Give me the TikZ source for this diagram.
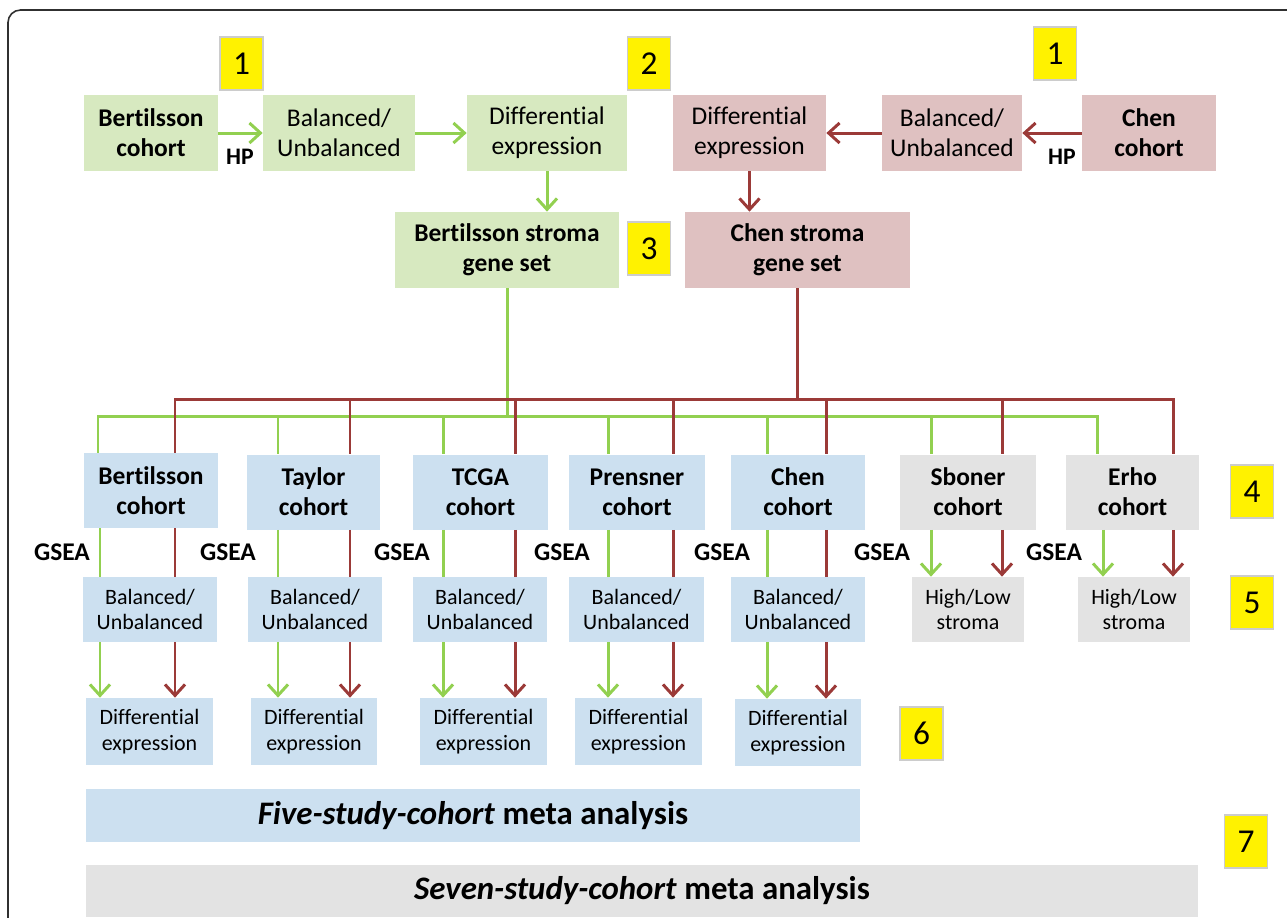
\documentclass[tikz,border=0pt]{standalone}
\usepackage{fontspec}
\setmainfont{Carlito}[RawFeature={-liga}]
\usepackage{tikz}
\usetikzlibrary{arrows.meta, positioning, calc}

\definecolor{gfill}{HTML}{D7E9C0}
\definecolor{rfill}{HTML}{DFC1C1}
\definecolor{bfill}{HTML}{CCE0F0}
\definecolor{kfill}{HTML}{E3E3E3}
\definecolor{gedge}{HTML}{92D050}
\definecolor{redge}{HTML}{9B3A38}
\definecolor{frame}{HTML}{303030}

\tikzset{
  box/.style={inner sep=1pt, align=center, font=\fontsize{14.5}{17}\selectfont},
  gbox/.style={box, fill=gfill},
  rbox/.style={box, fill=rfill},
  bbox/.style={box, fill=bfill},
  kbox/.style={box, fill=kfill},
  small/.style={font=\fontsize{12.5}{14.7}\selectfont},
  bold/.style={font=\fontsize{14.5}{17}\selectfont\bfseries},
  numbox/.style={draw=black!20, line width=0.8pt, fill=yellow, minimum width=0.86cm, minimum height=1.06cm, font=\fontsize{19}{22}\selectfont},
  tag/.style={font=\fontsize{13.5}{16}\selectfont\bfseries},
  gline/.style={draw=gedge, line width=1.7pt},
  rline/.style={draw=redge, line width=1.7pt},
  tip/.style={-{Straight Barb[length=2.2mm, width=4mm, line width=1.7pt]}},
}

\begin{document}
\begin{tikzpicture}[x=0.02cm, y=-0.02cm]
    \useasboundingbox (0,0) rectangle (1287,917);
    \draw[frame, line width=0.9pt, rounded corners=0.25cm] (8,940) |- (1300,10);

    % Nodes: top row
    \node (bcoh) at (151,133) [gbox, bold, minimum width=2.68cm, minimum height=1.52cm] {Bertilsson\\cohort};
    \node (bbal) at (339,133) [gbox, minimum width=3.04cm, minimum height=1.52cm] {Balanced/\\Unbalanced};
    \node (bdiff) at (547,133) [gbox, minimum width=3.2cm, minimum height=1.52cm] {Differential\\expression};
    \node (cdiff) at (749.5,133) [rbox, minimum width=3.06cm, minimum height=1.52cm] {Differential\\expression};
    \node (cbal) at (952,133) [rbox, minimum width=2.8cm, minimum height=1.52cm] {Balanced/\\Unbalanced};
    \node (ccoh) at (1149,133) [rbox, bold, minimum width=2.68cm, minimum height=1.52cm] {Chen\\cohort};

    \node (bset) at (507,250) [gbox, bold, minimum width=4.48cm, minimum height=1.52cm] {Bertilsson stroma\\gene set};
    \node (cset) at (797.5,250) [rbox, bold, minimum width=4.5cm, minimum height=1.52cm] {Chen stroma\\gene set};

    \node (hpb) at (240,157) [tag] {HP};
    \node (hpc) at (1062,157) [tag] {HP};

    % step numbers
    \node (n1a) at (241.5,63.5) [numbox] {1};
    \node (n2) at (649,63.5) [numbox] {2};
    \node (n1b) at (1055,53.5) [numbox] {1};
    \node (n3) at (649,248.5) [numbox] {3};
    \node (n4) at (1252,491.5) [numbox] {4};
    \node (n5) at (1252,602.5) [numbox] {5};
    \node (n6) at (921.5,733.5) [numbox] {6};
    \node (n7) at (1246,841.5) [numbox] {7};

    % Nodes: cohorts
    \node (coh1) at (151,490.5) [bbox, bold, minimum width=2.68cm, minimum height=1.5cm] {Bertilsson\\cohort};
    \node (coh2) at (313.5,492) [bbox, bold, minimum width=2.66cm, minimum height=1.5cm] {Taylor\\cohort};
    \node (coh3) at (480.5,492) [bbox, bold, minimum width=2.7cm, minimum height=1.5cm] {TCGA\\cohort};
    \node (coh4) at (637,492) [bbox, bold, minimum width=2.72cm, minimum height=1.5cm] {Prensner\\cohort};
    \node (coh5) at (798,492) [bbox, bold, minimum width=2.68cm, minimum height=1.5cm] {Chen\\cohort};
    \node (coh6) at (968,492) [kbox, bold, minimum width=2.72cm, minimum height=1.5cm] {Sboner\\cohort};
    \node (coh7) at (1132.5,492) [kbox, bold, minimum width=2.66cm, minimum height=1.5cm] {Erho\\cohort};

    \node (bal1) at (150,609.5) [bbox, small, minimum width=2.68cm, minimum height=1.3cm] {Balanced/\\Unbalanced};
    \node (bal2) at (315,609.5) [bbox, small, minimum width=2.68cm, minimum height=1.3cm] {Balanced/\\Unbalanced};
    \node (bal3) at (480,609.5) [bbox, small, minimum width=2.68cm, minimum height=1.3cm] {Balanced/\\Unbalanced};
    \node (bal4) at (636.5,609.5) [bbox, small, minimum width=2.7cm, minimum height=1.3cm] {Balanced/\\Unbalanced};
    \node (bal5) at (798,609.5) [bbox, small, minimum width=2.68cm, minimum height=1.3cm] {Balanced/\\Unbalanced};
    \node (bal6) at (968,609.5) [kbox, small, minimum width=2.24cm, minimum height=1.3cm] {High/Low\\stroma};
    \node (bal7) at (1134,609.5) [kbox, small, minimum width=2.24cm, minimum height=1.3cm] {High/Low\\stroma};

    \node (diff1) at (149.5,731.5) [bbox, small, minimum width=2.54cm, minimum height=1.34cm] {Differential\\expression};
    \node (diff2) at (314,731.5) [bbox, small, minimum width=2.52cm, minimum height=1.34cm] {Differential\\expression};
    \node (diff3) at (483.5,731.5) [bbox, small, minimum width=2.54cm, minimum height=1.34cm] {Differential\\expression};
    \node (diff4) at (638.5,731.5) [bbox, small, minimum width=2.54cm, minimum height=1.34cm] {Differential\\expression};
    \node (diff5) at (798,732.5) [bbox, small, minimum width=2.52cm, minimum height=1.34cm] {Differential\\expression};

    \foreach \i/\x in {1/62, 2/228, 3/402, 4/562, 5/722, 6/882, 7/1054}
        \node (gsea\i) at (\x,552) [tag, font=\fontsize{14.5}{17}\selectfont\bfseries] {GSEA};

    \node (five) at (473,815.5) [bbox, minimum width=15.48cm, minimum height=1.06cm, font=\fontsize{18.7}{22}\selectfont\bfseries] {\textit{Five-study-cohort} meta analysis};
    \node (seven) at (642,891) [kbox, minimum width=22.24cm, minimum height=1.04cm, font=\fontsize{18.7}{22}\selectfont\bfseries] {\textit{Seven-study-cohort} meta analysis};

    % Edges: top row
    \draw[gline, tip] (bcoh) -- (bbal);
    \draw[gline, tip] (bbal) -- (bdiff);
    \draw[gline, tip] (bdiff.south) -- (bdiff.south |- bset.north);
    \draw[rline, tip] (ccoh) -- (cbal);
    \draw[rline, tip] (cbal) -- (cdiff);
    \draw[rline, tip] (cdiff.south) -- (cdiff.south |- cset.north);

    % Edges: gene sets to cohorts
    \coordinate (gbus) at (bset.south |- 0,416);
    \coordinate (rbus) at (cset.south |- 0,399);
    \draw[gline] (bset.south) -- (gbus);
    \draw[rline] (cset.south) -- (rbus);
    \draw[rline, line cap=rect] (rbus -| 175,0) -- (rbus -| 1173,0);
    \draw[gline, line cap=rect] (gbus -| 98,0) -- (gbus -| 1097,0);
    \foreach \i/\g/\r in {1/98/175, 2/278/350, 3/443/515, 4/608/673, 5/767/826, 6/931/1002, 7/1097/1173} {
        \draw[rline] (rbus -| \r,0) -- (coh\i.north -| \r,0);
        \draw[gline] (gbus -| \g,0) -- (coh\i.north -| \g,0);
    }

    % Edges: cohorts to balanced / high-low
    \foreach \i/\g/\r in {1/100/175, 2/278/350, 3/443/515, 4/608/673, 5/767/826} {
        \draw[gline] (coh\i.south -| \g,0) -- (bal\i.north -| \g,0);
        \draw[rline] (coh\i.south -| \r,0) -- (bal\i.north -| \r,0);
        \draw[gline, tip] (bal\i.south -| \g,0) -- (diff\i.north -| \g,0);
        \draw[rline, tip] (bal\i.south -| \r,0) -- (diff\i.north -| \r,0);
    }
    \foreach \i/\g/\r in {6/931/1002, 7/1103/1173} {
        \draw[gline, tip] (coh\i.south -| \g,0) -- (bal\i.north -| \g,0);
        \draw[rline, tip] (coh\i.south -| \r,0) -- (bal\i.north -| \r,0);
    }
\end{tikzpicture}
\end{document}
